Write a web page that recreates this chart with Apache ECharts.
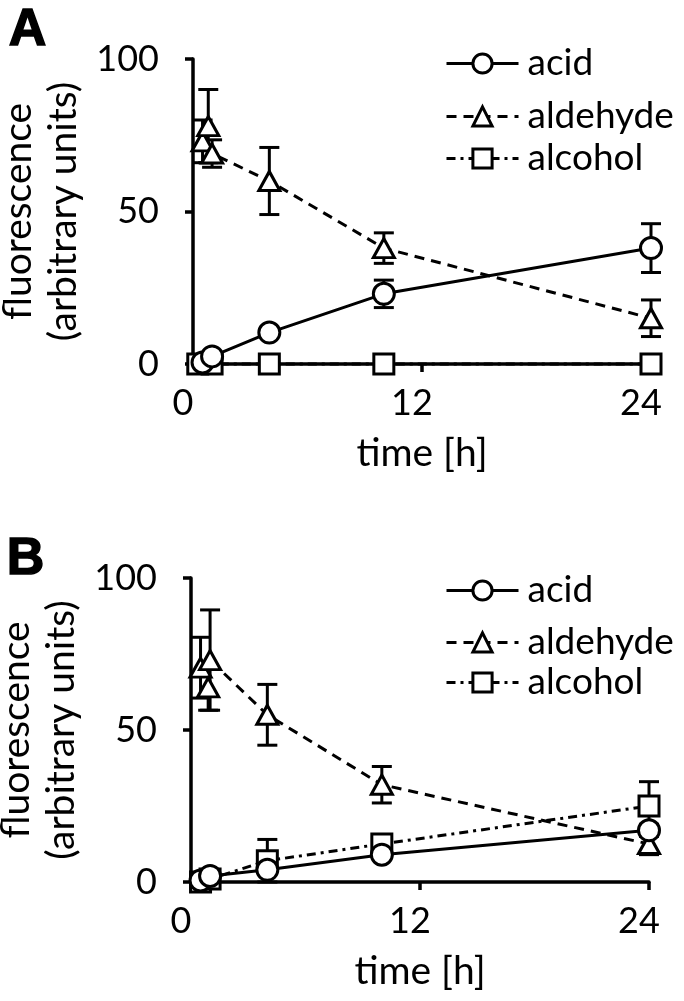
<!DOCTYPE html>
<html>
<head>
<meta charset="utf-8">
<script src="https://cdn.jsdelivr.net/npm/echarts@6/dist/echarts.min.js"></script>
<style>html,body{margin:0;padding:0;background:#fff}#c{width:684px;height:1001px}</style>
</head>
<body>
<div id="c"></div>
<script>
// ---- data ----
const xTicks = [0, 12, 24];
const yTicks = [0, 50, 100];
const seriesNames = ['acid', 'aldehyde', 'alcohol'];

// Panel A
const acidA_t = [0.5, 1, 4, 10, 24];
const acidA_v = [0.5, 2.5, 10.3, 23, 38];
const acidA_e = [0, 0, 0, 4.5, 8];
const aldA_t = [0.5, 0.8, 1, 4, 10, 24];
const aldA_v = [73, 78, 69, 60, 38, 15];
const aldA_e = [7, 12, 4.5, 11, 5, 6];
const alcA_t = [0.25, 1, 4, 10, 24];
const alcA_v = [0, 0, 0, 0, 0];
const alcA_e = [0, 0, 0, 0, 0];

// Panel B
const acidB_t = [0.5, 1, 4, 10, 24];
const acidB_v = [0.5, 2, 4, 9, 17];
const acidB_e = [0, 0, 0, 0, 2];
const aldB_t = [0.5, 0.9, 1, 4, 10, 24];
const aldB_v = [70.5, 64, 73, 55, 32, 12.5];
const aldB_e = [10, 7.5, 16.5, 10, 6, 3.5];
const alcB_t = [0.5, 1, 4, 10, 24];
const alcB_v = [0, 1, 7, 12.5, 25];
const alcB_e = [0, 0, 7, 1.5, 8];

// ---- styles ----
const FONT = 'Lato';
const LW = 3;
const styles = {
  acid: { symbol: 'circle', symbolSize: 21, dash: 'solid' },
  aldehyde: { symbol: 'triangle', symbolSize: [21, 19], dash: [10, 7] },
  alcohol: { symbol: 'rect', symbolSize: 20, dash: [9, 5, 3, 5] }
};

function pairs(t, v) { return t.map((x, i) => [x, v[i]]); }
function errs(t, v, e) {
  const out = [];
  t.forEach((x, i) => { if (e[i] > 0) out.push([x, v[i] - e[i], v[i] + e[i]]); });
  return out;
}

function lineSeries(name, t, v, idx) {
  const s = styles[name];
  return {
    type: 'line', name: name, xAxisIndex: idx, yAxisIndex: idx,
    data: pairs(t, v), symbol: s.symbol, symbolSize: s.symbolSize, showAllSymbol: true,
    itemStyle: { color: '#fff', borderColor: '#000', borderWidth: LW },
    lineStyle: { color: '#000', width: LW, type: s.dash },
    emphasis: { disabled: true }, z: 3, animation: false, clip: false
  };
}
function errSeries(t, v, e, idx) {
  return {
    type: 'custom', xAxisIndex: idx, yAxisIndex: idx, z: 2, animation: false,
    data: errs(t, v, e), encode: { x: 0, y: [1, 2] }, silent: true,
    renderItem: function (params, api) {
      const x = api.value(0), lo = api.value(1), hi = api.value(2);
      const a = api.coord([x, hi]), b = api.coord([x, lo]);
      const w = 10, st = { stroke: '#000', lineWidth: LW };
      return { type: 'group', children: [
        { type: 'line', shape: { x1: a[0], y1: a[1], x2: b[0], y2: b[1] }, style: st },
        { type: 'line', shape: { x1: a[0] - w, y1: a[1], x2: a[0] + w, y2: a[1] }, style: st },
        { type: 'line', shape: { x1: b[0] - w, y1: b[1], x2: b[0] + w, y2: b[1] }, style: st }
      ]};
    }
  };
}

function xAxis(idx) {
  return {
    type: 'value', gridIndex: idx, min: xTicks[0], max: xTicks[xTicks.length - 1], interval: xTicks[1] - xTicks[0],
    name: 'time [h]', nameLocation: 'middle', nameGap: 70,
    nameTextStyle: { fontFamily: FONT, fontSize: 39, color: '#000', lineHeight: 39 },
    axisLine: { onZero: false, lineStyle: { color: '#000', width: 3.5 } },
    axisTick: { length: 8, lineStyle: { width: 3.5, color: '#000' } },
    axisLabel: { margin: 21, fontFamily: FONT, fontSize: 36, color: '#000', lineHeight: 36, padding: [0, 20, 0, 0] },
    splitLine: { show: false }
  };
}
function yAxis(idx) {
  return {
    type: 'value', gridIndex: idx, min: yTicks[0], max: yTicks[yTicks.length - 1], interval: yTicks[1] - yTicks[0],
    name: 'fluorescence\n(arbitrary units)', nameLocation: 'middle', nameRotate: 90, nameGap: 88,
    nameTextStyle: { fontFamily: FONT, fontSize: 39, color: '#000', lineHeight: 45 },
    axisLine: { onZero: false, lineStyle: { color: '#000', width: 3.5 } },
    axisTick: { length: 8, lineStyle: { width: 3.5, color: '#000' } },
    axisLabel: { margin: 34, fontFamily: FONT, fontSize: 36, color: '#000' },
    splitLine: { show: false }
  };
}
function legend(name, top) {
  return {
    data: [name], left: 440, top: top - 18, itemWidth: 72, itemHeight: 24, selectedMode: false,
    lineStyle: { color: '#000', width: LW, type: 'inherit' },
    itemStyle: { color: '#fff', borderColor: '#000', borderWidth: LW },
    textStyle: { fontFamily: FONT, fontSize: 37, color: '#000', lineHeight: 36, padding: [0, 0, 0, 4] }
  };
}

const chart = echarts.init(document.getElementById('c'), null, { renderer: 'canvas' });
chart.setOption({
  animation: false,
  backgroundColor: '#fff',
  textStyle: { fontFamily: FONT },
  grid: [
    { left: 193, top: 59, width: 458, height: 305, containLabel: false, outerBoundsMode: 'none' },
    { left: 191, top: 578, width: 458, height: 304, containLabel: false, outerBoundsMode: 'none' }
  ],
  xAxis: [xAxis(0), xAxis(1)],
  yAxis: [yAxis(0), yAxis(1)],
  legend: [
    legend('acid', 58), legend('aldehyde', 111), legend('alcohol', 153),
    legend('acid', 585), legend('aldehyde', 637), legend('alcohol', 677)
  ],
  graphic: [
    { type: 'text', left: 8, top: 4, style: { text: 'A', font: 'bold 52px "Liberation Sans", Arial', fill: '#000', stroke: '#000', lineWidth: 1.5 } },
    { type: 'text', left: 6, top: 533, style: { text: 'B', font: 'bold 52px "Liberation Sans", Arial', fill: '#000', stroke: '#000', lineWidth: 1.5 } }
  ],
  series: [
    errSeries(acidA_t, acidA_v, acidA_e, 0),
    errSeries(aldA_t, aldA_v, aldA_e, 0),
    errSeries(alcA_t, alcA_v, alcA_e, 0),
    lineSeries('alcohol', alcA_t, alcA_v, 0),
    lineSeries('aldehyde', aldA_t, aldA_v, 0),
    lineSeries('acid', acidA_t, acidA_v, 0),
    errSeries(acidB_t, acidB_v, acidB_e, 1),
    errSeries(aldB_t, aldB_v, aldB_e, 1),
    errSeries(alcB_t, alcB_v, alcB_e, 1),
    lineSeries('alcohol', alcB_t, alcB_v, 1),
    lineSeries('aldehyde', aldB_t, aldB_v, 1),
    lineSeries('acid', acidB_t, acidB_v, 1)
  ]
});
</script>
</body>
</html>
